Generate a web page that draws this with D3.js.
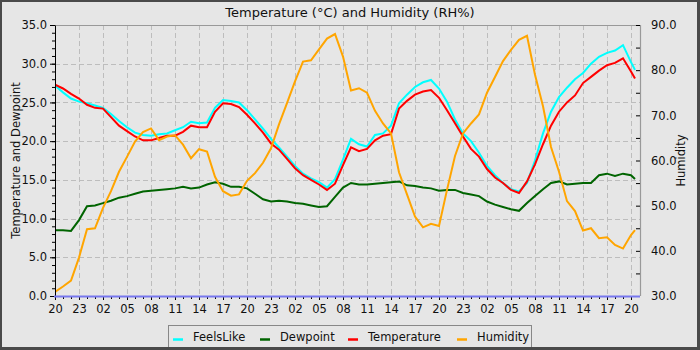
<!DOCTYPE html>
<html><head><meta charset="utf-8">
<script src="https://cdn.jsdelivr.net/npm/d3@7"></script>
<style>
html,body{margin:0;padding:0;background:#444;}
text{font-family:"DejaVu Sans",sans-serif;}
</style></head>
<body>
<svg id="c" width="700" height="350"></svg>
<script>
// ---- data (hours since start, one reading per hour + final) ----
const hours = d3.range(0, 73).concat([72.5]);
const xTickLabels = ["20","23","02","05","08","11","14","17","20","23","02","05","08","11","14","17","20","23","02","05","08","11","14","17","20"];
const leftTicks = [0,5,10,15,20,25,30,35];
const rightTicks = [30,40,50,60,70,80,90];
const seriesNames = ["FeelsLike","Dewpoint","Temperature","Humidity"];
const seriesColors = ["#00ffff","#006400","#ff0000","#ffa500"];

const feelsLike = [27.2,26.3,25.5,25.1,24.9,24.6,24.3,23.5,22.6,21.8,21.1,20.8,20.7,20.9,21.0,21.4,21.8,22.5,22.3,22.4,24.3,25.3,25.2,25.0,24.0,22.8,21.6,20.3,19.2,18.0,16.8,15.8,15.2,14.7,14.0,15.1,17.6,20.3,19.6,19.3,20.8,21.0,22.0,24.9,26.0,27.0,27.6,27.9,26.8,25.1,22.8,21.0,20.0,18.5,16.8,15.6,14.6,13.8,13.5,14.6,17.5,21.0,23.8,25.7,26.9,28.0,28.8,30.0,30.9,31.4,31.7,32.4,30.2,29.2];
const dewpoint = [8.5,8.5,8.4,9.8,11.6,11.7,12.0,12.3,12.7,12.9,13.2,13.5,13.6,13.7,13.8,13.9,14.1,13.9,14.0,14.4,14.7,14.5,14.1,14.1,13.9,13.2,12.5,12.2,12.3,12.2,12.0,11.9,11.7,11.5,11.6,12.8,14.0,14.6,14.4,14.4,14.5,14.6,14.7,14.8,14.3,14.2,14.0,13.9,13.6,13.7,13.7,13.3,13.1,12.9,12.2,11.8,11.5,11.2,11.0,12.0,12.9,13.8,14.6,14.8,14.4,14.5,14.6,14.6,15.6,15.8,15.5,15.8,15.6,15.1];
const temperature = [27.3,26.8,26.1,25.5,24.7,24.3,24.2,23.1,22.0,21.3,20.6,20.1,20.1,20.4,20.7,20.7,21.2,22.0,21.8,21.8,23.8,24.9,24.8,24.4,23.4,22.3,21.1,19.7,18.9,17.7,16.5,15.6,15.0,14.4,13.7,14.5,16.9,19.2,18.7,19.0,20.1,20.7,20.9,24.2,25.2,26.0,26.4,26.6,25.6,24.0,22.3,20.6,19.0,18.0,16.4,15.3,14.6,13.7,13.3,14.8,17.0,19.6,22.0,23.8,25.0,25.9,27.5,28.3,29.1,29.8,30.1,30.7,29.0,28.1];
const humidity = [30.9,32.1,33.4,38.5,44.8,45.0,49.5,53.2,57.5,60.8,64.2,66.3,67.1,64.5,65.3,65.6,63.5,60.5,62.5,62.0,56.4,53.2,52.2,52.5,55.5,57.2,59.5,62.7,68.0,72.7,77.5,81.9,82.2,84.6,87.0,88.0,83.0,75.5,76.0,75.0,71.0,68.2,66.0,57.4,52.5,47.6,45.2,46.0,45.5,53.5,61.0,66.0,68.2,70.2,75.0,78.5,82.0,84.5,86.7,87.6,79.0,72.0,63.0,57.5,51.0,48.8,44.5,45.0,42.8,43.0,41.3,40.5,43.5,44.6];

// ---- layout ----
const svg = d3.select("#c");
const L = 55, R = 640, T = 25, B = 296;
svg.append("rect").attr("x",0).attr("y",0).attr("width",700).attr("height",350).attr("fill","#4a4a4a");
svg.append("rect").attr("x",2).attr("y",2).attr("width",695).attr("height",345).attr("fill","#e6e6e6");

const x = d3.scaleLinear().domain([0, 73.125]).range([L, R]);
const yL = d3.scaleLinear().domain([0, 35]).range([B, T]);
const yR = d3.scaleLinear().domain([30, 90]).range([B, T]);

// grid
const grid = svg.append("g").attr("stroke","#bdbdbd").attr("stroke-width",1).attr("stroke-dasharray","5,3");
d3.range(3, 73, 3).forEach(h => {
  grid.append("line").attr("x1", Math.round(x(h))+0.5).attr("x2", Math.round(x(h))+0.5).attr("y1", T).attr("y2", B);
});
leftTicks.slice(1, -1).forEach(v => {
  grid.append("line").attr("x1", L).attr("x2", R).attr("y1", Math.round(yL(v))+0.5).attr("y2", Math.round(yL(v))+0.5);
});

// frame (top, right)
svg.append("path").attr("d", `M${L},${T+0.5}H${R+0.5}V${B}`).attr("fill","none").attr("stroke","#999").attr("stroke-width",1.2);

// clip
svg.append("clipPath").attr("id","clip").append("rect").attr("x",L).attr("y",T).attr("width",R-L).attr("height",B-T);

// lines
const series = [
  {name:"FeelsLike", vals:feelsLike, y:yL, color:seriesColors[0]},
  {name:"Dewpoint", vals:dewpoint, y:yL, color:seriesColors[1]},
  {name:"Temperature", vals:temperature, y:yL, color:seriesColors[2]},
  {name:"Humidity", vals:humidity, y:yR, color:seriesColors[3]}
];
const gLines = svg.append("g").attr("clip-path","url(#clip)");
series.forEach(s => {
  const line = d3.line().x((d,i) => x(hours[i])).y(d => s.y(d)).curve(d3.curveLinear);
  gLines.append("path").datum(s.vals).attr("d", line).attr("fill","none")
    .attr("stroke", s.color).attr("stroke-width", 2).attr("stroke-linejoin","miter");
});

// axes
const fontSize = 11.5;
function styleAxis(g){ g.selectAll("text").attr("font-size", fontSize).attr("fill","#111").attr("font-family","DejaVu Sans, sans-serif"); g.selectAll("line").attr("stroke","#000"); }

// left
svg.append("g").attr("transform",`translate(${L},0)`)
  .call(d3.axisLeft(yL).tickValues(d3.range(0,36,1)).tickSize(3).tickFormat("")).call(g=>g.select(".domain").remove()).call(styleAxis);
svg.append("g").attr("transform",`translate(${L},0)`)
  .call(d3.axisLeft(yL).tickValues(leftTicks).tickSize(5).tickSizeOuter(0).tickPadding(3).tickFormat(d3.format(".1f")))
  .call(g=>g.select(".domain").attr("stroke","#000")).call(styleAxis);

// right (inward ticks)
svg.append("g").attr("transform",`translate(${R},0)`)
  .call(d3.axisRight(yR).tickValues(d3.range(35,90,10)).tickSize(-4).tickFormat("")).call(g=>g.select(".domain").remove()).call(styleAxis);
svg.append("g").attr("transform",`translate(${R},0)`)
  .call(d3.axisRight(yR).tickValues(rightTicks).tickSize(-4).tickSizeOuter(0).tickPadding(11).tickFormat(d3.format(".1f")))
  .call(g=>g.select(".domain").remove()).call(styleAxis);

// bottom
svg.append("g").attr("transform",`translate(0,${B})`)
  .call(d3.axisBottom(x).tickValues(d3.range(0,73,1)).tickSize(3).tickFormat("")).call(g=>g.select(".domain").remove()).call(styleAxis);
svg.append("g").attr("transform",`translate(0,${B})`)
  .call(d3.axisBottom(x).tickValues(d3.range(0,73,3)).tickSize(4).tickSizeOuter(0).tickPadding(5).tickFormat((d,i)=>xTickLabels[i]))
  .call(g=>g.select(".domain").remove()).call(styleAxis);
svg.append("line").attr("x1",L-1).attr("x2",R).attr("y1",B+0.5).attr("y2",B+0.5).attr("stroke","#7777ee").attr("stroke-width",2);

// titles
svg.append("text").attr("x",350).attr("y",17).attr("text-anchor","middle").attr("font-size",13).attr("fill","#111")
  .text("Temperature (°C) and Humidity (RH%)");
svg.append("text").attr("transform",`translate(20,${(T+B)/2}) rotate(-90)`).attr("text-anchor","middle").attr("font-size",11.5).attr("fill","#111")
  .text("Temperature and Dewpoint");
svg.append("text").attr("transform",`translate(685,${(T+B)/2}) rotate(-90)`).attr("text-anchor","middle").attr("font-size",11.5).attr("fill","#111")
  .text("Humidity");

// legend
const lg = svg.append("g");
lg.append("rect").attr("x",168.5).attr("y",325.5).attr("width",363).attr("height",24).attr("fill","#e6e6e6").attr("stroke","#888");
const legX = [173, 260, 348, 457];
seriesNames.forEach((n,i) => {
  lg.append("line").attr("x1",legX[i]).attr("x2",legX[i]+10).attr("y1",339.5).attr("y2",339.5).attr("stroke",seriesColors[i]).attr("stroke-width",2.5);
  lg.append("text").attr("x",legX[i]+20).attr("y",341).attr("font-size",11.5).attr("fill","#111").text(n);
});
// bottom border overlay
svg.append("rect").attr("x",0).attr("y",347).attr("width",700).attr("height",3).attr("fill","#4a4a4a");
</script>
</body></html>
